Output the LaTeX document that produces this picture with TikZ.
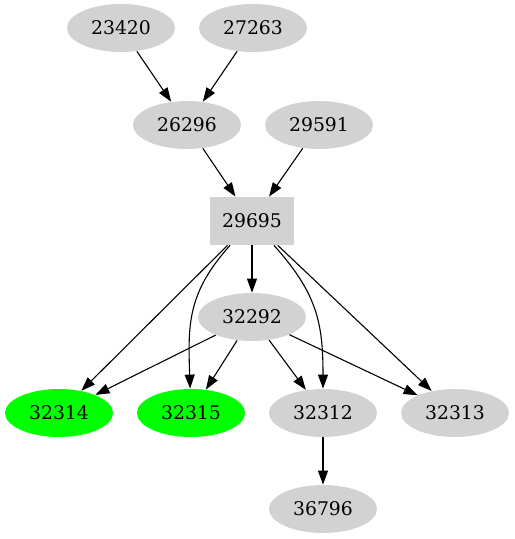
\documentclass[tikz,border=0pt]{standalone}
\usepackage{fontspec}
\setmainfont{DejaVu Serif}
\usepackage{tikz}
\usetikzlibrary{shapes.geometric, arrows.meta, positioning}

\begin{document}
\begin{tikzpicture}[
  x=0.5pt, y=-0.5pt,
  job/.style={ellipse, fill=lightgray!70, minimum width=54pt, minimum height=24pt,
              inner sep=0pt, font=\fontsize{9.4}{11}\selectfont},
  done/.style={job, fill=green},
  root/.style={rectangle, fill=lightgray!70, minimum width=42pt, minimum height=24pt,
               inner sep=0pt, font=\fontsize{9.4}{11}\selectfont},
  arr/.style={-{Triangle[length=7pt, width=5pt]}, line width=0.55pt}
]
\useasboundingbox (0,0) rectangle (514,539);

\node[job]  (n23420) at (121,28)  {23420};
\node[job]  (n27263) at (253,28)  {27263};
\node[job]  (n26296) at (187,125) {26296};
\node[job]  (n29591) at (319,125) {29591};
\node[root] (n29695) at (252,221) {29695};
\node[job]  (n32292) at (252,317) {32292};
\node[done] (n32314) at (59,413)  {32314};
\node[done] (n32315) at (191,413) {32315};
\node[job]  (n32312) at (323,413) {32312};
\node[job]  (n32313) at (455,413) {32313};
\node[job]  (n36796) at (323,509) {36796};

\draw[arr] (n23420) -- (n26296);
\draw[arr] (n27263) -- (n26296);
\draw[arr] (n26296) -- (n29695);
\draw[arr] (n29591) -- (n29695);
\draw[arr] (n29695) -- (n32292);
\draw[arr] (n29695) -- (n32314);
\draw[arr] (n29695) to[out=-132, in=92, looseness=1.1] (n32315);
\draw[arr] (n29695) to[out=-48, in=90, looseness=1.1] (n32312);
\draw[arr] (n29695) -- (n32313);
\draw[arr] (n32292) -- (n32314);
\draw[arr] (n32292) -- (n32315);
\draw[arr] (n32292) -- (n32312);
\draw[arr] (n32292) -- (n32313);
\draw[arr] (n32312) -- (n36796);
\end{tikzpicture}
\end{document}
